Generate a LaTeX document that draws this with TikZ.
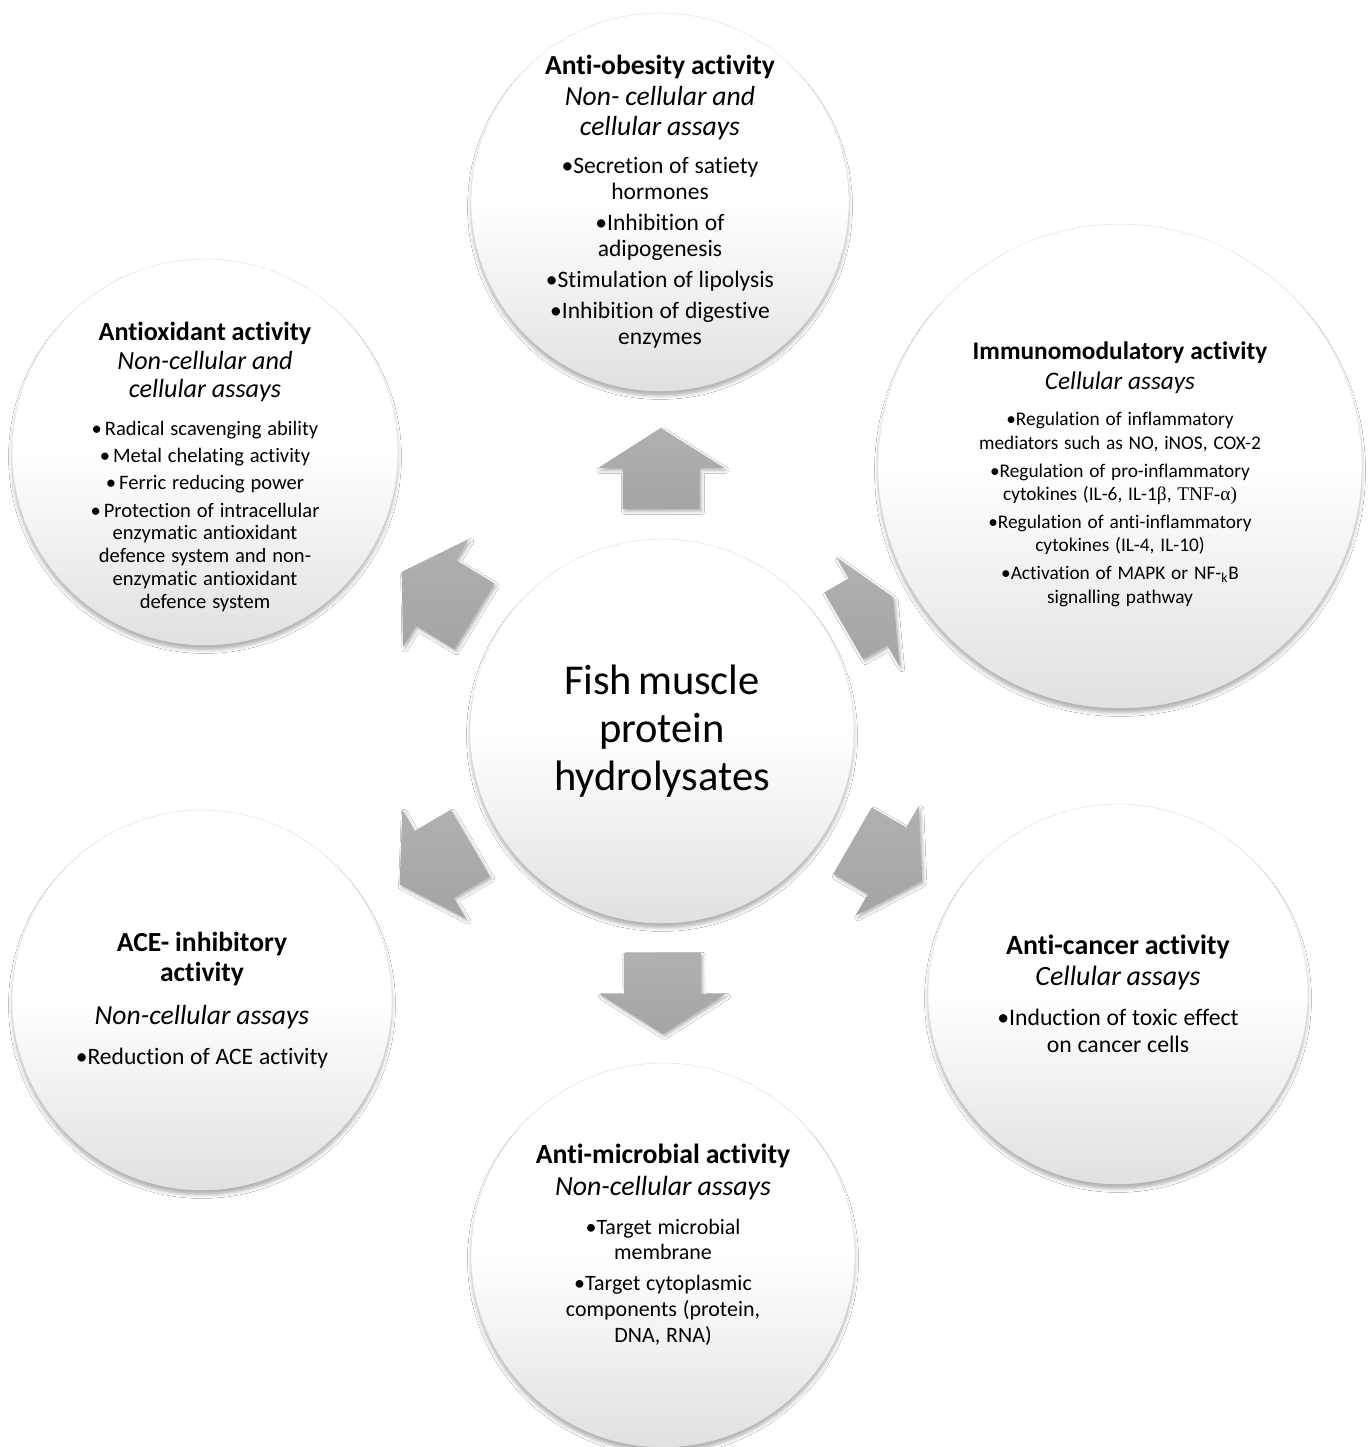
\documentclass[tikz,border=0pt]{standalone}
\usepackage{fontspec}
\setmainfont[Ligatures=NoCommon]{Carlito}
\newfontfamily\greekserif{Liberation Serif}
\usetikzlibrary{shadows.blur}
\setlength{\parindent}{0pt}

\tikzset{
  bubble/.style={circle, inner sep=0pt, draw=gray!22, line width=0.3pt,
    top color=white, bottom color=gray!24, middle color=white,
    blur shadow={shadow xshift=0cm, shadow yshift=-0.1cm,
      shadow blur radius=0.07cm, shadow opacity=30}},
  bubbletext/.style={align=center, text width=7.2cm, inner sep=0pt},
  blockarrow/.style={draw=none, top color=gray!62, bottom color=gray!71,
    blur shadow={shadow xshift=0.04cm, shadow yshift=-0.05cm,
      shadow blur radius=0.06cm, shadow opacity=30}},
}

\begin{document}
\begin{tikzpicture}[x=0.02cm, y=0.02cm]
\useasboundingbox (0,0) rectangle (1369,1447);
\fill[white] (0,0) rectangle (1369,1447);

% circles
\node[bubble, minimum size=7.68cm] (hub) at (662,716) {};
\node[bubble, minimum size=7.56cm] (obes) at (660,1245) {};
\node[bubble, minimum size=9.68cm] (immu) at (1120,981) {};
\node[bubble, minimum size=7.6cm] (canc) at (1118,453) {};
\node[bubble, minimum size=7.68cm] (micr) at (663,192) {};
\node[bubble, minimum size=7.6cm] (ace) at (202,447) {};
\node[bubble, minimum size=7.72cm] (anti) at (205,995) {};

% block arrows from the hub
\foreach \tgt/\st/\len/\hd in {obes/222/81/40, immu/210/57/29, canc/220/80/40,
    micr/222/81/40, ace/222/82/40, anti/220/85/40} {
  \pgfmathanglebetweenpoints{\pgfpointanchor{hub}{center}}{\pgfpointanchor{\tgt}{center}}
  \let\ang\pgfmathresult
  \begin{scope}[shift={(hub)}, rotate=\ang]
    \draw[blockarrow] (\st,-38.5) -- (\st+\len-\hd,-38.5) -- (\st+\len-\hd,-63)
      -- (\st+\len,0) -- (\st+\len-\hd,63) -- (\st+\len-\hd,38.5) -- (\st,38.5) -- cycle;
  \end{scope}
}

% texts
\node[bubbletext] (hub-t) at (hub) {\fontsize{24.2}{27.2}\selectfont
  Fish muscle\\ protein\\ hydrolysates\par};

\node[bubbletext] (obes-t) at (obes) {%
  {\fontsize{15.7}{17.3}\selectfont\textbf{Anti-obesity activity}\\
   \itshape Non- cellular and\\ cellular assays\par}
  \vspace{7pt}
  {\fontsize{13.4}{14.8}\selectfont •Secretion of satiety\\ hormones\\[2.8pt]
   •Inhibition of\\ adipogenesis\\[2.8pt]
   •Stimulation of lipolysis\\[2.8pt]
   •Inhibition of digestive\\ enzymes\par}};

\node[bubbletext, yshift=-0.16cm] (immu-t) at (immu) {%
  {\fontsize{14.4}{17}\selectfont\textbf{Immunomodulatory activity}\\
   \itshape Cellular assays\par}
  \vspace{7.7pt}
  {\fontsize{11}{13.3}\selectfont •Regulation of inflammatory\\
   mediators such as NO, iNOS, COX-2\\[2.6pt]
   •Regulation of pro-inflammatory\\
   cytokines (IL-6, IL-1{\greekserif β}, {\greekserif TNF-α)}\\[2.6pt]
   •Regulation of anti-inflammatory\\ cytokines (IL-4, IL-10)\\[2.6pt]
   •Activation of MAPK or NF-\textsubscript{k}B\\ signalling pathway\par}};

\node[bubbletext, yshift=-0.3cm] (anti-t) at (anti) {%
  {\fontsize{14.9}{16.2}\selectfont\textbf{Antioxidant activity}\\
   \itshape Non-cellular and\\ cellular assays\par}
  \vspace{8.5pt}
  {\fontsize{11.7}{13}\selectfont •\hspace{0.15em}Radical scavenging ability\\[2.5pt]
   •\hspace{0.15em}Metal chelating activity\\[2.5pt]
   •\hspace{0.15em}Ferric reducing power\\[2.5pt]
   •\hspace{0.15em}Protection of intracellular\\ enzymatic antioxidant\\
   defence system and non-\\ enzymatic antioxidant\\ defence system\par}};

\node[bubbletext] (ace-t) at (ace) {%
  {\fontsize{15.7}{17.2}\selectfont\textbf{ACE- inhibitory}\\ \textbf{activity}\par}
  \vspace{7.2pt}
  {\fontsize{15.7}{17.2}\selectfont\itshape Non-cellular assays\par}
  \vspace{7.7pt}
  {\fontsize{13.4}{15}\selectfont •Reduction of ACE activity\par}};

\node[bubbletext] (canc-t) at (canc) {%
  {\fontsize{15.9}{17.6}\selectfont\textbf{Anti-cancer activity}\\
   \itshape Cellular assays\par}
  \vspace{7.4pt}
  {\fontsize{13.5}{15.3}\selectfont •Induction of toxic effect\\ on cancer cells\par}};

\node[bubbletext, yshift=0.2cm] (micr-t) at (micr) {%
  {\fontsize{15.8}{18}\selectfont\textbf{Anti-microbial activity}\\
   \itshape Non-cellular assays\par}
  \vspace{7.3pt}
  {\fontsize{12.5}{14.7}\selectfont •Target microbial\\ membrane\\[2.9pt]
   •Target cytoplasmic\\ components (protein,\\ DNA, RNA)\par}};
\end{tikzpicture}
\end{document}
